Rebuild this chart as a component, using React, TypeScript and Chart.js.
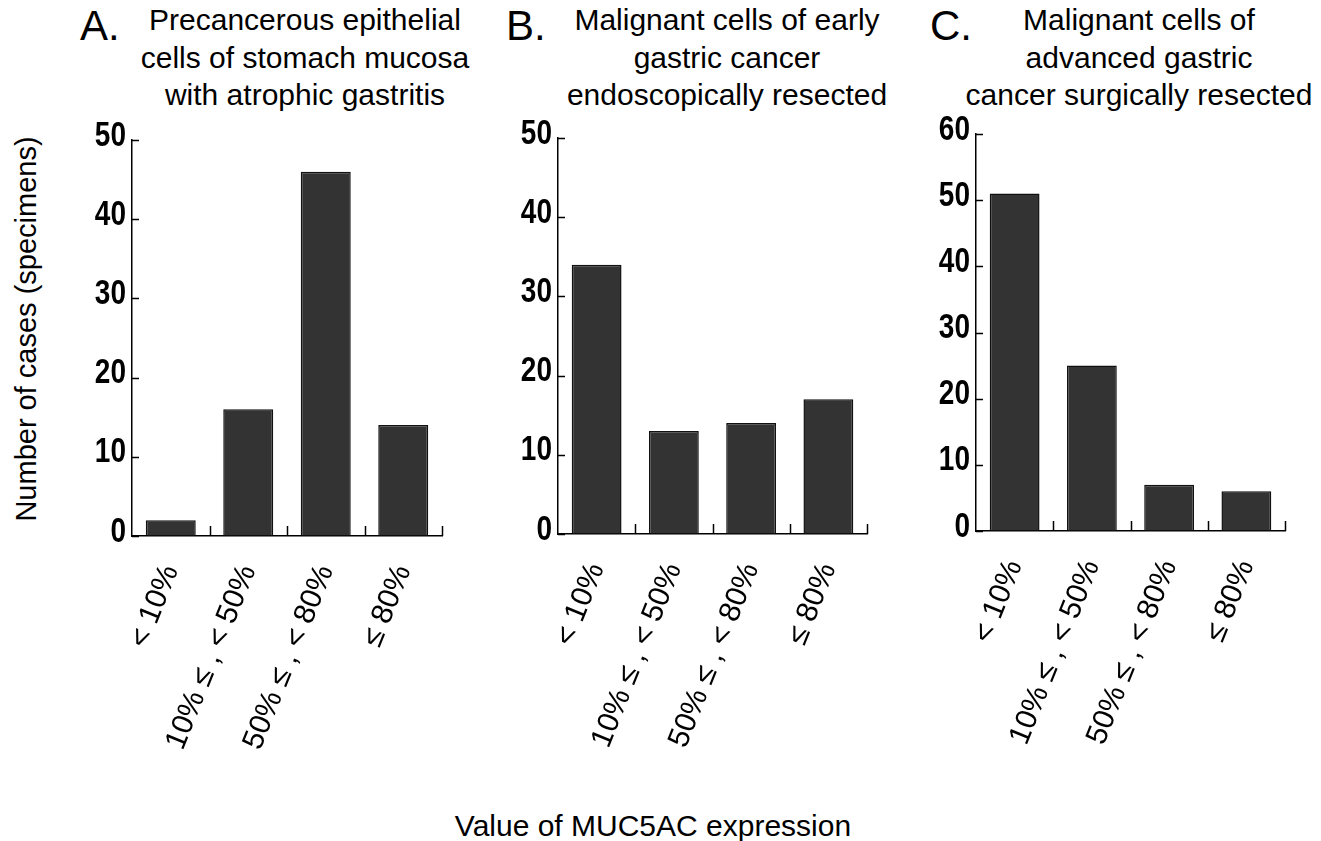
import React, { useEffect, useRef } from "react";
import { Chart, registerables } from "chart.js";

Chart.register(...registerables);

const categories = ["< 10%", "10% ≤ , < 50%", "50% ≤ , < 80%", "≤ 80%"];
const valuesA = [2, 16, 46, 14];
const valuesB = [34, 13, 14, 17];
const valuesC = [51, 25, 7, 6];
const yMaxA = 50;
const yMaxB = 50;
const yMaxC = 60;
const titleA = ["Precancerous epithelial", "cells of stomach mucosa", "with atrophic gastritis"];
const titleB = ["Malignant cells of early", "gastric cancer", "endoscopically resected"];
const titleC = ["Malignant cells of", "advanced gastric", "cancer surgically resected"];
const yAxisTitle = "Number of cases (specimens)";
const xAxisTitle = "Value of MUC5AC expression";

const SANS = '"Liberation Sans", Arial, sans-serif';

// draws inward tick marks and the condensed bold y tick labels from the scales
const axisDecor = {
  id: "axisDecor",
  afterDraw(chart: any) {
    const { ctx, chartArea } = chart;
    const x = chart.scales.x;
    const y = chart.scales.y;
    ctx.save();
    ctx.strokeStyle = "#000";
    ctx.lineWidth = 1.5;
    ctx.beginPath();
    y.ticks.forEach((t: any) => {
      const py = Math.round(y.getPixelForValue(t.value)) + 0.5;
      ctx.moveTo(chartArea.left, py);
      ctx.lineTo(chartArea.left + 7, py);
    });
    for (let i = 0; i < x.ticks.length; i++) {
      const px = Math.round(x.getPixelForValue(i + 0.5)) + 0.5;
      ctx.moveTo(px, chartArea.bottom);
      ctx.lineTo(px, chartArea.bottom - 10);
    }
    ctx.stroke();
    ctx.fillStyle = "#000";
    ctx.font = `bold 35px ${SANS}`;
    ctx.textAlign = "right";
    ctx.textBaseline = "middle";
    y.ticks.forEach((t: any) => {
      const py = y.getPixelForValue(t.value) - 4;
      ctx.save();
      ctx.translate(chartArea.left - 6, py);
      ctx.scale(0.8, 1);
      ctx.fillText(String(t.label), 0, 0);
      ctx.restore();
    });
    ctx.restore();
  },
};

type PanelProps = {
  values: number[];
  yMax: number;
  axisX: number;
  right: number;
  top: number;
  bottom: number;
};

const Y_W = 60;
const PAD_TOP = 30;
const PAD_RIGHT = 6;
const X_H = 260;

function Panel({ values, yMax, axisX, right, top, bottom }: PanelProps) {
  const ref = useRef<HTMLCanvasElement | null>(null);
  const L = axisX - Y_W;
  const T = top - PAD_TOP;
  const W = right - L + PAD_RIGHT;
  const H = bottom - T + X_H;
  useEffect(() => {
    if (!ref.current) return;
    const chart = new Chart(ref.current, {
      type: "bar",
      data: {
        labels: categories,
        datasets: [
          {
            data: values,
            backgroundColor: "#333333",
            borderColor: "#111111",
            borderWidth: 1.5,
            borderSkipped: "bottom",
            categoryPercentage: 1,
            barPercentage: 0.645,
          },
        ],
      },
      options: {
        responsive: false,
        animation: false,
        devicePixelRatio: 1,
        layout: { padding: { top: PAD_TOP, right: PAD_RIGHT, left: 0, bottom: 0 } },
        plugins: { legend: { display: false }, tooltip: { enabled: false }, title: { display: false } },
        scales: {
          x: {
            type: "category",
            offset: true,
            grid: { display: true, drawOnChartArea: false, drawTicks: false },
            border: { display: true, color: "#000", width: 1.5 },
            ticks: {
              autoSkip: false,
              minRotation: 68,
              maxRotation: 68,
              padding: 24,
              color: "#000",
              font: { family: SANS, size: 30 },
            },
            afterFit: (s: any) => {
              s.height = X_H;
              s.paddingLeft = 0;
              s.paddingRight = 0;
            },
          },
          y: {
            min: 0,
            max: yMax,
            grid: { display: true, drawOnChartArea: false, drawTicks: false },
            border: { display: true, color: "#000", width: 1.5 },
            ticks: {
              stepSize: 10,
              display: true,
              color: "rgba(0,0,0,0)",
              font: { family: SANS, size: 20 },
            },
            afterFit: (s: any) => {
              s.width = Y_W;
              s.paddingTop = 0;
              s.paddingBottom = 0;
            },
          },
        },
      },
      plugins: [axisDecor],
    });
    return () => chart.destroy();
  }, []);
  return (
    <canvas
      ref={ref}
      width={W}
      height={H}
      style={{ position: "absolute", left: L, top: T, width: W, height: H }}
    />
  );
}

function Title({ lines, cx }: { lines: string[]; cx: number }) {
  return (
    <div
      style={{
        position: "absolute",
        left: cx - 250,
        width: 500,
        top: 1,
        textAlign: "center",
        fontFamily: SANS,
        fontSize: 30,
        lineHeight: "37.5px",
        color: "#000",
      }}
    >
      {lines.map((l, i) => (
        <div key={i}>{l}</div>
      ))}
    </div>
  );
}

function Letter({ text, x }: { text: string; x: number }) {
  return (
    <div
      style={{
        position: "absolute",
        left: x,
        top: 0,
        fontFamily: SANS,
        fontSize: 42,
        lineHeight: "52px",
        color: "#000",
      }}
    >
      {text}
    </div>
  );
}

export default function App() {
  return (
    <div
      style={{
        position: "absolute",
        left: 0,
        top: 0,
        width: 1321,
        height: 841,
        background: "#fff",
        overflow: "hidden",
      }}
    >
      <Letter text="A." x={80} />
      <Letter text="B." x={506} />
      <Letter text="C." x={930} />
      <Title lines={titleA} cx={305} />
      <Title lines={titleB} cx={727} />
      <Title lines={titleC} cx={1139} />
      <Panel values={valuesA} yMax={yMaxA} axisX={132} right={442} top={140} bottom={536} />
      <Panel values={valuesB} yMax={yMaxB} axisX={558} right={867} top={138} bottom={534} />
      <Panel values={valuesC} yMax={yMaxC} axisX={976} right={1285} top={134} bottom={531} />
      <div
        style={{
          position: "absolute",
          left: 26,
          top: 329,
          transform: "translate(-50%, -50%) rotate(-90deg)",
          whiteSpace: "nowrap",
          fontFamily: SANS,
          fontSize: 29,
          color: "#000",
        }}
      >
        {yAxisTitle}
      </div>
      <div
        style={{
          position: "absolute",
          left: 653,
          top: 826,
          transform: "translate(-50%, -50%)",
          whiteSpace: "nowrap",
          fontFamily: SANS,
          fontSize: 30,
          color: "#000",
        }}
      >
        {xAxisTitle}
      </div>
    </div>
  );
}
